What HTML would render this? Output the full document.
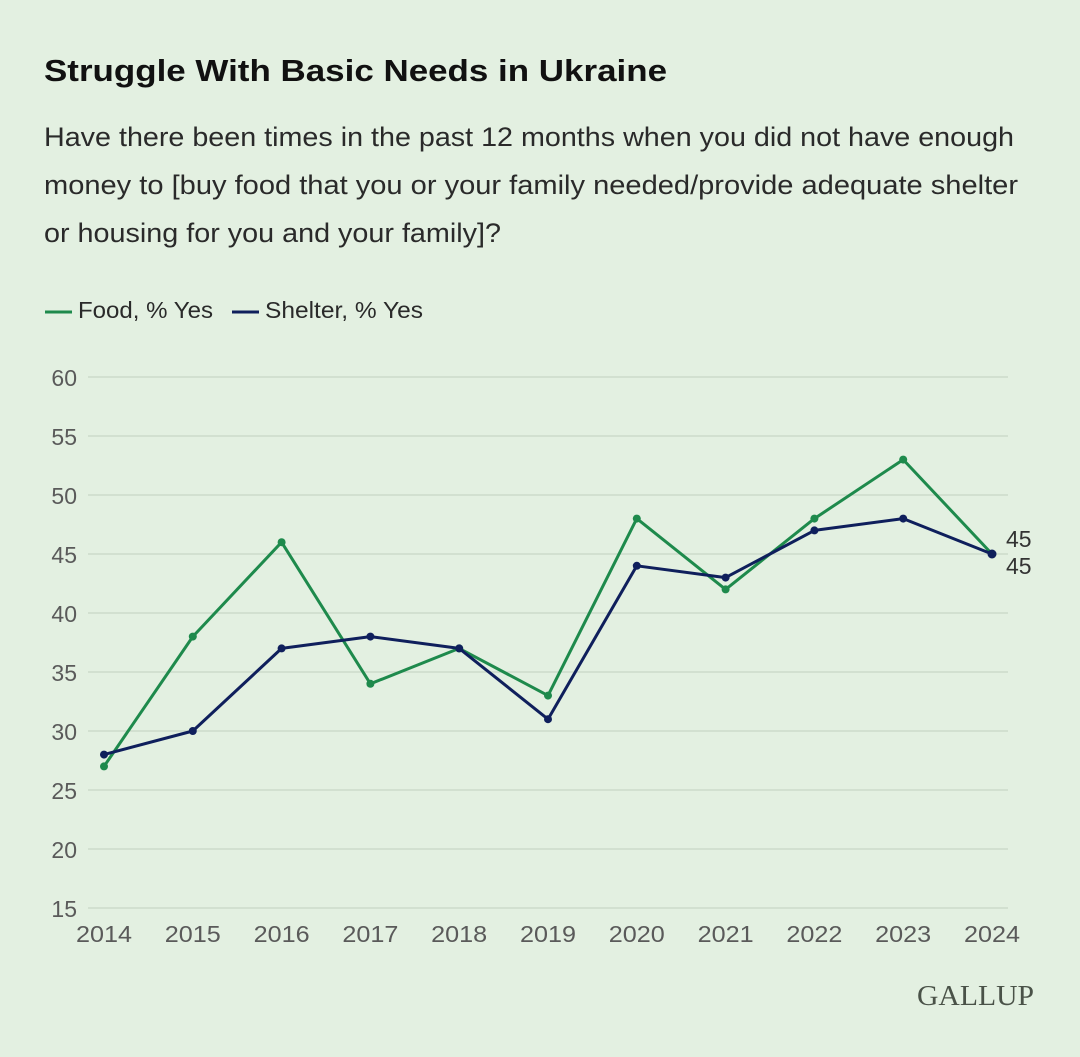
<!DOCTYPE html>
<html><head><meta charset="utf-8"><style>
html,body{margin:0;padding:0;background:#e3f0e1;}
body{width:1080px;height:1052px;overflow:hidden;font-family:"Liberation Sans",sans-serif;}
</style></head><body>
<svg width="1080" height="1052" xmlns="http://www.w3.org/2000/svg" font-family="Liberation Sans, sans-serif">
<rect width="1080" height="1052" fill="#e3f0e1"/>
<text x="44" y="81" font-size="31" font-weight="bold" fill="#111" textLength="623" lengthAdjust="spacingAndGlyphs">Struggle With Basic Needs in Ukraine</text>
<g font-size="26.5" fill="#2a2a2a">
<text x="44" y="146" textLength="970" lengthAdjust="spacingAndGlyphs">Have there been times in the past 12 months when you did not have enough</text>
<text x="44" y="194" textLength="974" lengthAdjust="spacingAndGlyphs">money to [buy food that you or your family needed/provide adequate shelter</text>
<text x="44" y="242" textLength="457" lengthAdjust="spacingAndGlyphs">or housing for you and your family]?</text>
</g>
<line x1="45" y1="312" x2="72" y2="312" stroke="#1e8a4c" stroke-width="3"/>
<text x="78" y="318" font-size="23" fill="#2a2a2a" textLength="135" lengthAdjust="spacingAndGlyphs">Food, % Yes</text>
<line x1="232" y1="312" x2="259" y2="312" stroke="#0f1f5c" stroke-width="3"/>
<text x="265" y="318" font-size="23" fill="#2a2a2a" textLength="158" lengthAdjust="spacingAndGlyphs">Shelter, % Yes</text>
<g stroke="#c8d6c6" stroke-width="1.2">
<line x1="88" x2="1008" y1="377" y2="377"/><line x1="88" x2="1008" y1="436" y2="436"/>
<line x1="88" x2="1008" y1="495" y2="495"/><line x1="88" x2="1008" y1="554" y2="554"/>
<line x1="88" x2="1008" y1="613" y2="613"/><line x1="88" x2="1008" y1="672" y2="672"/>
<line x1="88" x2="1008" y1="731" y2="731"/><line x1="88" x2="1008" y1="790" y2="790"/>
<line x1="88" x2="1008" y1="849" y2="849"/><line x1="88" x2="1008" y1="908" y2="908"/>
</g>
<g font-size="23" fill="#5a5a5a" text-anchor="end">
<text x="77" y="386">60</text><text x="77" y="445">55</text><text x="77" y="504">50</text>
<text x="77" y="563">45</text><text x="77" y="622">40</text><text x="77" y="681">35</text>
<text x="77" y="740">30</text><text x="77" y="799">25</text><text x="77" y="858">20</text>
<text x="77" y="917">15</text>
</g>
<g font-size="23" fill="#5a5a5a" text-anchor="middle">
<text x="104" y="942" textLength="56" lengthAdjust="spacingAndGlyphs">2014</text><text x="192.8" y="942" textLength="56" lengthAdjust="spacingAndGlyphs">2015</text><text x="281.6" y="942" textLength="56" lengthAdjust="spacingAndGlyphs">2016</text>
<text x="370.4" y="942" textLength="56" lengthAdjust="spacingAndGlyphs">2017</text><text x="459.2" y="942" textLength="56" lengthAdjust="spacingAndGlyphs">2018</text><text x="548" y="942" textLength="56" lengthAdjust="spacingAndGlyphs">2019</text>
<text x="636.8" y="942" textLength="56" lengthAdjust="spacingAndGlyphs">2020</text><text x="725.6" y="942" textLength="56" lengthAdjust="spacingAndGlyphs">2021</text><text x="814.4" y="942" textLength="56" lengthAdjust="spacingAndGlyphs">2022</text>
<text x="903.2" y="942" textLength="56" lengthAdjust="spacingAndGlyphs">2023</text><text x="992" y="942" textLength="56" lengthAdjust="spacingAndGlyphs">2024</text>
</g>
<polyline fill="none" stroke="#1e8a4c" stroke-width="3" stroke-linejoin="round" points="104,766.4 192.8,636.6 281.6,542.2 370.4,683.8 459.2,648.4 548,695.6 636.8,518.6 725.6,589.4 814.4,518.6 903.2,459.6 992,554"/>
<g fill="#1e8a4c">
<circle cx="104" cy="766.4" r="4"/><circle cx="192.8" cy="636.6" r="4"/><circle cx="281.6" cy="542.2" r="4"/><circle cx="370.4" cy="683.8" r="4"/><circle cx="459.2" cy="648.4" r="4"/><circle cx="548" cy="695.6" r="4"/><circle cx="636.8" cy="518.6" r="4"/><circle cx="725.6" cy="589.4" r="4"/><circle cx="814.4" cy="518.6" r="4"/><circle cx="903.2" cy="459.6" r="4"/>
</g>
<polyline fill="none" stroke="#0f1f5c" stroke-width="3" stroke-linejoin="round" points="104,754.6 192.8,731 281.6,648.4 370.4,636.6 459.2,648.4 548,719.2 636.8,565.8 725.6,577.6 814.4,530.4 903.2,518.6 992,554"/>
<g fill="#0f1f5c">
<circle cx="104" cy="754.6" r="4"/><circle cx="192.8" cy="731" r="4"/><circle cx="281.6" cy="648.4" r="4"/><circle cx="370.4" cy="636.6" r="4"/><circle cx="459.2" cy="648.4" r="4"/><circle cx="548" cy="719.2" r="4"/><circle cx="636.8" cy="565.8" r="4"/><circle cx="725.6" cy="577.6" r="4"/><circle cx="814.4" cy="530.4" r="4"/><circle cx="903.2" cy="518.6" r="4"/><circle cx="992" cy="554" r="4.5"/>
</g>
<text x="1006" y="547" font-size="23" fill="#333">45</text>
<text x="1006" y="574" font-size="23" fill="#333">45</text>
<text x="1034" y="1005" font-size="29" font-family="Liberation Serif, serif" fill="#4a5248" text-anchor="end" textLength="117" lengthAdjust="spacingAndGlyphs">GALLUP</text>
</svg>
</body></html>
